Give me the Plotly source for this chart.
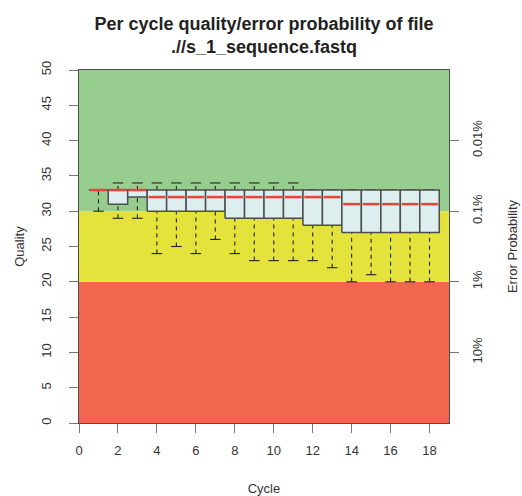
import plotly.graph_objects as go

# ---- data ----
cycles = list(range(1, 19))
whisker_low = [30, 29, 29, 24, 25, 24, 26, 24, 23, 23, 23, 23, 22, 20, 21, 20, 20, 20]
q1 = [33, 31, 32, 30, 30, 30, 30, 29, 29, 29, 29, 28, 28, 27, 27, 27, 27, 27]
median = [33, 33, 33, 32, 32, 32, 32, 32, 32, 32, 32, 32, 32, 31, 31, 31, 31, 31]
q3 = [33] * 18
whisker_high = [33, 34, 34, 34, 34, 34, 34, 34, 34, 34, 34, 33, 33, 33, 33, 33, 33, 33]

band_edges = [0, 20, 30, 50]          # red / yellow / green quality bands
band_colors = ["#F26650", "#E4E33B", "#97CE8F"]

err_tick_q = [10, 20, 30, 40]
err_tick_text = ["10%", "1%", "0.1%", "0.01%"]

x_ticks = list(range(0, 19, 2))
y_ticks = list(range(0, 51, 5))

BOX_HALF = 0.5
CAP_HALF = 0.27
DARK = "#4d4d4d"

fig = go.Figure()

# background bands
for i, col in enumerate(band_colors):
    fig.add_shape(type="rect", xref="paper", yref="y", x0=0, x1=1,
                  y0=band_edges[i], y1=band_edges[i + 1],
                  fillcolor=col, line=dict(width=0), layer="below")

# whiskers (dashed)
wx, wy = [], []
for c, lo, a, b, hi in zip(cycles, whisker_low, q1, q3, whisker_high):
    wx += [c, c, None, c, c, None]
    wy += [lo, a, None, b, hi, None]
fig.add_trace(go.Scatter(x=wx, y=wy, mode="lines", hoverinfo="skip",
                         line=dict(color="#222", width=1.1, dash="4px,4px"),
                         showlegend=False))
# caps
cx, cy = [], []
for c, lo, hi in zip(cycles, whisker_low, whisker_high):
    cx += [c - CAP_HALF, c + CAP_HALF, None, c - CAP_HALF, c + CAP_HALF, None]
    cy += [lo, lo, None, hi, hi, None]
fig.add_trace(go.Scatter(x=cx, y=cy, mode="lines", hoverinfo="skip",
                         line=dict(color="#222", width=1.1), showlegend=False))

# boxes
for c, a, b in zip(cycles, q1, q3):
    fig.add_trace(go.Scatter(
        x=[c - BOX_HALF, c + BOX_HALF, c + BOX_HALF, c - BOX_HALF, c - BOX_HALF],
        y=[a, a, b, b, a], mode="lines", fill="toself", fillcolor="#DDEEEE",
        line=dict(color=DARK, width=1.5), hoverinfo="skip", showlegend=False))

# medians
mx, my = [], []
for c, m in zip(cycles, median):
    mx += [c - BOX_HALF + 0.07, c + BOX_HALF - 0.07, None]
    my += [m, m, None]
fig.add_trace(go.Scatter(x=mx, y=my, mode="lines", hoverinfo="skip",
                         line=dict(color="#E8453A", width=2.5), showlegend=False))

# invisible trace for right axis
fig.add_trace(go.Scatter(x=[0], y=[0], yaxis="y2", mode="markers",
                         marker=dict(opacity=0), hoverinfo="skip", showlegend=False))

FONT = "Liberation Sans, Arial, sans-serif"
tickfont = dict(family=FONT, size=13, color="#333")

fig.update_layout(
    width=522, height=496,
    margin=dict(l=79, r=73, t=70, b=73, autoexpand=False),
    paper_bgcolor="white", plot_bgcolor="white",
    font=dict(family=FONT, size=13, color="#333"),
    title=dict(text="<b>Per cycle quality/error probability of file<br>.//s_1_sequence.fastq</b>",
               x=0.5, xref="paper", xanchor="center",
               y=1 - 30 / 496, yref="container", yanchor="top",
               font=dict(family=FONT, size=18, color="#222")),
    xaxis=dict(range=[0, 19], tickvals=x_ticks, ticks="outside", ticklen=9,
               tickcolor="#777", showline=True, linecolor=DARK, mirror=True,
               showgrid=False, zeroline=False, tickfont=tickfont,
               ticklabelstandoff=6, automargin=False,
               title=dict(text="Cycle", standoff=27, font=tickfont)),
    yaxis=dict(range=[0, 50], tickvals=y_ticks, ticks="outside", ticklen=9,
               tickcolor="#777", showline=True, linecolor=DARK, mirror=True,
               showgrid=False, zeroline=False, tickfont=tickfont, tickangle=-90,
               ticklabelstandoff=13, automargin=False,
               title=dict(text="Quality", standoff=11, font=tickfont)),
    yaxis2=dict(range=[0, 50], overlaying="y", side="right",
                tickvals=err_tick_q, ticktext=err_tick_text, ticks="outside",
                ticklen=9, tickcolor="#777", showgrid=False, zeroline=False,
                tickfont=tickfont, tickangle=-90, ticklabelstandoff=7,
                automargin=False,
                title=dict(text="Error Probability", standoff=24, font=tickfont)),
)

fig.write_html("out.html", config={"displayModeBar": False},
               post_script="document.body.style.margin='0';")
